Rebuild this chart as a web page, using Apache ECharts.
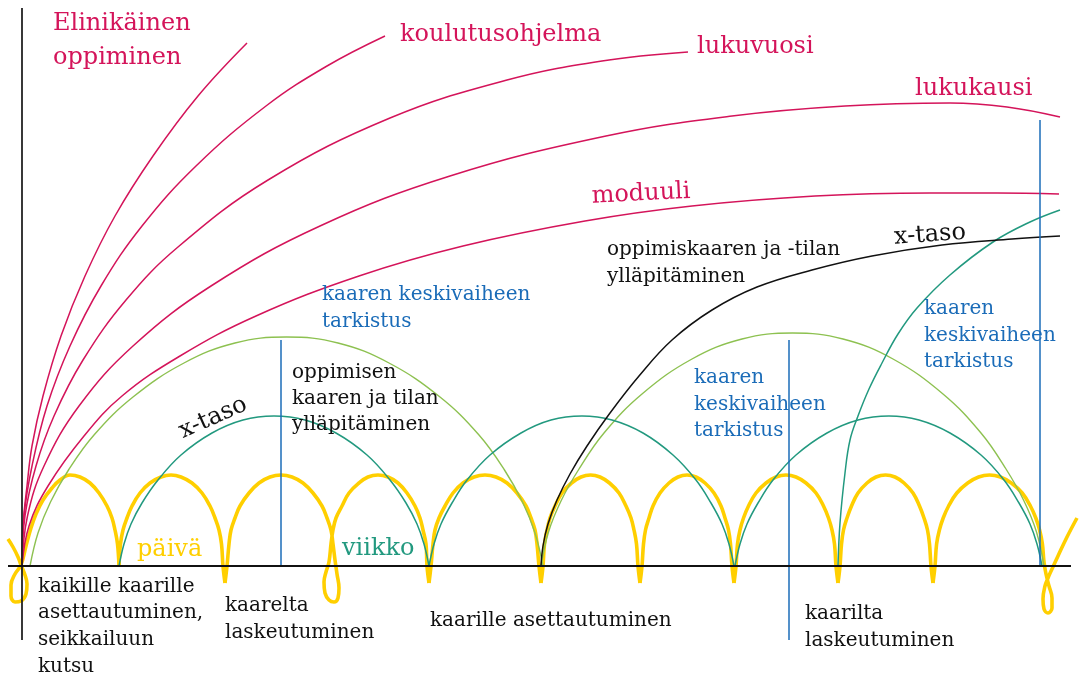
<!DOCTYPE html>
<html>
<head>
<meta charset="utf-8">
<script src="https://cdn.jsdelivr.net/npm/echarts/dist/echarts.min.js"></script>
<style>
html,body{margin:0;padding:0;background:#fff;}
#chart{width:1085px;height:678px;}
</style>
</head>
<body>
<div id="chart"></div>
<script>
// Coordinates: x = time along the baseline (0 = vertical axis), y = height above the baseline.

// Päivä (daily) curve, yellow – one array per arc between cusps
const paiva0 = [[-14,27],[-9,19],[-4,9],[-1,1],[3,-9],[5,-18],[4,-28],[-1,-35],[-7,-36],[-11,-30],[-11,-19],[-7,-8],[-1,1],[4,20],[9,38],[14,52],[21,66],[30,78],[38,86],[48,91],[58,89],[68,83],[77,73],[85,60],[90,48],[93,36],[95.5,22],[97,0]];
const paiva1 = [[97,0],[98.5,22],[101,36],[105,48],[110,60],[118,73],[128,83],[139,89],[149,91],[159,89],[170,83],[180,73],[188,60],[193,48],[197,36],[199.5,22],[201,0],[203,-17]];
const paiva2 = [[203,-17],[205,0],[207,22],[209,36],[213,48],[218,60],[227,73],[237,83],[248,89],[259,91],[270,89],[281,83],[291,73],[300,60],[305,48],[309,36],[311,22],[313,6],[315,-8],[317,-22],[316,-32],[312,-36],[307,-34],[303,-27],[302,-16],[304,-6],[307,4],[309,22],[311,36],[314,48],[320,60],[327,73],[337,83],[346,89],[356,91],[366,89],[376,83],[385,73],[393,60],[398,48],[401,36],[404,22],[405,0],[407,-17]];
const paiva3 = [[407,-17],[409,0],[411,22],[413,36],[417,48],[423,60],[431,73],[441,83],[452,89],[463,91],[474,89],[485,83],[495,73],[504,60],[509,48],[513,36],[515,22],[517,0],[519,-17]];
const paiva4 = [[519,-17],[521,0],[522.5,22],[525,36],[528,48],[533,60],[540,73],[549.5,83],[559,89],[568.5,91],[578,89],[587.5,83],[597,73],[604,60],[609,48],[612,36],[614.5,22],[616,0],[618,-17]];
const paiva5 = [[618,-17],[620,0],[621.5,22],[623.5,36],[627,48],[631,60],[638,73],[647,83],[656,89],[665,91],[674,89],[683,83],[692,73],[699,60],[703,48],[706.5,36],[708.5,22],[710,0],[712,-17]];
const paiva6 = [[712,-17],[714,0],[715.5,22],[718,36],[721.5,48],[726.5,60],[734,73],[744,83],[754,89],[764,91],[774,89],[784,83],[794,73],[801.5,60],[806.5,48],[810,36],[812.5,22],[814,0],[816,-17]];
const paiva7 = [[816,-17],[818,0],[819.5,22],[821.5,36],[825,48],[829.5,60],[836,73],[845,83],[854,89],[863.5,91],[873,89],[882,83],[891,73],[897.5,60],[902,48],[905.5,36],[907.5,22],[909,0],[911,-17]];
const paiva8 = [[911,-17],[913,0],[914.6,22],[917.4,36],[921.2,48],[926.6,60],[934.8,73],[945.7,83],[956.6,89],[967.5,91],[978.4,89],[989.3,83],[1000.2,73],[1008.4,60],[1013.8,48],[1017.6,36],[1020.4,22],[1022,4],[1024,-8],[1027,-20],[1030,-32],[1030,-42],[1026,-47],[1022,-43],[1021,-33],[1023,-20],[1026,-12],[1030,-3],[1036,10],[1045,29],[1055,48]];

// Viikko (weekly) arcs, teal
const viikko1 = [[97,0],[102,22],[109,42],[120,63],[136,86],[159,111],[190,133],[221,146],[252,150],[283,146],[314,133],[345,111],[368,86],[384,63],[395,42],[402,22],[407,0]];
const viikko2 = [[407,0],[412,22],[419,42],[430,63],[445,86],[468,111],[499,133],[529,146],[560,150],[590,146],[621,133],[651,111],[674,86],[689,63],[700,42],[707,22],[712,0]];
const viikko3 = [[713,0],[718,22],[725,42],[736,63],[751,86],[774,111],[805,133],[836,146],[867,150],[897,146],[928,133],[959,111],[982,86],[997,63],[1008,42],[1015,22],[1020,0]];
const viikkoNouseva = [[816,0],[818,43],[823,93],[828,126],[836,150],[847,177],[860,203],[876,232],[895,258],[928,291],[971,324],[1008,344],[1038,356]];

// Kaari (course arc) arcs, light green
const kaari1 = [[8,0],[16,33],[28.5,64],[46.5,96],[72,131],[111,169],[162,203],[213,223],[264.5,229],[316,223],[367,203],[418,169],[457,131],[482.5,96],[500.5,64],[513,33],[521,0]];
const kaari2 = [[519,0],[526.5,34],[539,65],[557,97],[582,133],[620,172],[670,207],[720,227],[770.5,233],[821,227],[871,207],[921,172],[959,133],[984,97],[1002,65],[1014.5,34],[1022,0]];

// x-taso, black
const xTaso = [[519,0],[521,20],[526,42],[535,66],[548,92],[565,120],[588,153],[617,190],[650,226],[690,256],[735,279],[790,296],[850,310],[920,321],[990,327],[1038,330]];

// Magenta level curves
const elinikainen = [[0,0],[1,40],[5,80],[10,120],[21,170],[39,230],[63,290],[93,350],[131,410],[176,470],[225,523]];
const koulutusohjelma = [[0,0],[2,50],[10,100],[25,160],[48,220],[79,280],[120,340],[174,400],[244,460],[305,500],[363,530]];
const lukuvuosi = [[0,0],[3,50],[14,100],[32,150],[61,206],[104,266],[156,319],[246,386],[368,448],[485,486],[580,505],[666,514]];
const lukukausi = [[0,0],[5.5,50],[22,100],[57,160],[111,220],[189,280],[298,340],[428,390],[584,430],[710,450],[823,460],[928,463],[985,459],[1038,449]];
const moduuli = [[0,0],[7,40],[26,80],[62,130],[100,170],[158,210],[234,250],[337,290],[441,320],[563,345],[670,360],[793,370],[908,373],[975,373],[1037,372]];

// Check-point verticals (blue)
const tarkistusX = [259, 767, 1018];
const tarkistusYla = [226, 226, 446];
const tarkistusAla = [0, -74, 0];

// Frame lines
const pystyAkseli = [[0,558],[0,-74]];
const vaakaAkseli = [[-14,0],[1049,0]];

const C = {
  magenta: '#d4145a', yellow: '#ffcf00', teal: '#22997f', green: '#8dc150',
  blue: '#1b6cb8', black: '#111111'
};
const FONT = '"DejaVu Serif", serif';

function curve(data, color, width, z, smooth) {
  return {
    type: 'line', data: data, smooth: smooth == null ? 0.4 : smooth,
    symbol: 'none', lineStyle: { color: color, width: width },
    z: z, silent: true, animation: false, clip: false
  };
}

const series = [];
[paiva0, paiva1, paiva2, paiva3, paiva4, paiva5, paiva6, paiva7, paiva8]
  .forEach(d => series.push(curve(d, C.yellow, 3.6, 2)));
[kaari1, kaari2].forEach(d => series.push(curve(d, C.green, 1.4, 3)));
[viikko1, viikko2, viikko3, viikkoNouseva].forEach(d => series.push(curve(d, C.teal, 1.5, 4)));
series.push(curve(xTaso, C.black, 1.5, 5));
[elinikainen, koulutusohjelma, lukuvuosi, lukukausi, moduuli]
  .forEach(d => series.push(curve(d, C.magenta, 1.5, 6)));
tarkistusX.forEach((x, i) => series.push(curve([[x, tarkistusYla[i]], [x, tarkistusAla[i]]], C.blue, 1.5, 7, 0)));
series.push(curve(pystyAkseli, '#222', 1.8, 8, 0));
series.push(curve(vaakaAkseli, '#111', 2, 8, 0));

function txt(text, x, y, size, color, lh, extra) {
  const el = {
    type: 'text', x: x, y: y, z: 20, silent: true,
    style: { text: text, font: size + 'px ' + FONT, fill: color,
      lineHeight: lh || Math.round(size * 1.35), verticalAlign: 'top', align: 'left' }
  };
  if (extra) {
    if (extra.rotation != null) el.rotation = extra.rotation;
    if (extra.center) { el.style.align = 'center'; el.style.verticalAlign = 'middle'; }
  }
  return el;
}

const texts = [
  txt('Elinikäinen\noppiminen', 53, 7, 24, C.magenta, 34),
  txt('koulutusohjelma', 400, 18, 24, C.magenta, 34),
  txt('lukuvuosi', 697, 30, 24, C.magenta, 34),
  txt('lukukausi', 915, 72, 24, C.magenta, 34),
  txt('moduuli', 641, 194, 24, C.magenta, 34, { rotation: 0.05, center: true }),
  txt('x-taso', 930, 235, 24, C.black, 30, { rotation: 0.07, center: true }),
  txt('x-taso', 213, 418, 24, C.black, 30, { rotation: 0.42, center: true }),
  txt('oppimiskaaren ja -tilan\nylläpitäminen', 607, 236, 20, C.black, 27),
  txt('kaaren keskivaiheen\ntarkistus', 322, 281, 20, C.blue, 27),
  txt('oppimisen\nkaaren ja tilan\nylläpitäminen', 292, 360, 20, C.black, 26),
  txt('kaaren\nkeskivaiheen\ntarkistus', 694, 365, 20, C.blue, 26.5),
  txt('kaaren\nkeskivaiheen\ntarkistus', 924, 296, 20, C.blue, 26.5),
  txt('päivä', 137, 533, 24, C.yellow, 34),
  txt('viikko', 342, 532, 24, C.teal, 34),
  txt('kaikille kaarille\nasettautuminen,\nseikkailuun\nkutsu', 38, 573, 20, C.black, 26.7),
  txt('kaarelta\nlaskeutuminen', 225, 592, 20, C.black, 27),
  txt('kaarille asettautuminen', 430, 607, 20, C.black, 27),
  txt('kaarilta\nlaskeutuminen', 805, 600, 20, C.black, 27)
];

const chart = echarts.init(document.getElementById('chart'), null, { renderer: 'canvas' });
chart.setOption({
  animation: false,
  backgroundColor: '#ffffff',
  grid: { left: 0, right: 0, top: 0, bottom: 0, containLabel: false },
  xAxis: { type: 'value', min: -22, max: 1063, show: false },
  yAxis: { type: 'value', min: -112, max: 566, show: false },
  series: series,
  graphic: texts
});
</script>
</body>
</html>
